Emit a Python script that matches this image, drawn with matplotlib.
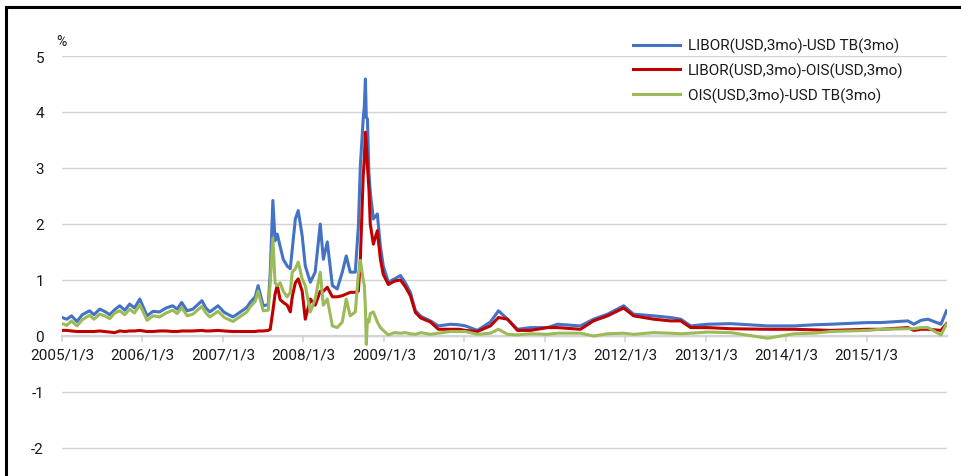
import matplotlib
matplotlib.use("Agg")
import matplotlib.pyplot as plt
from matplotlib.lines import Line2D
import pandas as pd

# Datas (aprox.)
datas = [
    "2005-01-03", "2005-01-25", "2005-02-15", "2005-03-12", "2005-04-05", "2005-05-08",
    "2005-05-28", "2005-06-23", "2005-07-15", "2005-08-08", "2005-08-30", "2005-09-22",
    "2005-10-15", "2005-11-06", "2005-11-28", "2005-12-22", "2006-01-24", "2006-02-20",
    "2006-03-22", "2006-04-20", "2006-05-20", "2006-06-10", "2006-06-30", "2006-07-25",
    "2006-08-20", "2006-09-30", "2006-10-18", "2006-11-05", "2006-12-12", "2007-01-10",
    "2007-02-18", "2007-03-20", "2007-04-22", "2007-05-07", "2007-05-30", "2007-06-12",
    "2007-07-05", "2007-07-28", "2007-08-06", "2007-08-18", "2007-08-28", "2007-09-07",
    "2007-09-20", "2007-10-04", "2007-10-22", "2007-11-05", "2007-11-14", "2007-11-28",
    "2007-12-11", "2007-12-29", "2008-01-12", "2008-02-04", "2008-02-26", "2008-03-20",
    "2008-04-03", "2008-04-21", "2008-05-14", "2008-06-05", "2008-06-28", "2008-07-16",
    "2008-08-03", "2008-08-26", "2008-09-09", "2008-09-18", "2008-10-01", "2008-10-06",
    "2008-10-11", "2008-10-15", "2008-10-20", "2008-10-27", "2008-11-02", "2008-11-16",
    "2008-12-04", "2008-12-18", "2008-12-31", "2009-01-23", "2009-02-20", "2009-03-19",
    "2009-04-10", "2009-05-03", "2009-05-26", "2009-06-20", "2009-08-02", "2009-09-07",
    "2009-11-01", "2009-12-10", "2010-01-08", "2010-03-03", "2010-05-01", "2010-06-07",
    "2010-07-18", "2010-09-01", "2010-10-30", "2011-01-15", "2011-03-02", "2011-06-14",
    "2011-08-12", "2011-10-15", "2011-12-27", "2012-02-10", "2012-05-11", "2012-07-27",
    "2012-09-11", "2012-10-26", "2013-01-11", "2013-04-26", "2013-10-11", "2014-02-06",
    "2014-05-08", "2014-07-24", "2015-01-08", "2015-03-08", "2015-07-09", "2015-08-05",
    "2015-09-06", "2015-10-08", "2015-12-06", "2015-12-31",
]

libor_tb = [
    0.33, 0.30, 0.36, 0.26, 0.38, 0.45,
    0.38, 0.48, 0.44, 0.38, 0.47, 0.54,
    0.46, 0.57, 0.50, 0.66, 0.36, 0.44,
    0.43, 0.50, 0.54, 0.48, 0.60, 0.45,
    0.48, 0.63, 0.50, 0.43, 0.54, 0.42,
    0.34, 0.42, 0.51, 0.60, 0.70, 0.90,
    0.54, 0.56, 1.14, 2.42, 1.70, 1.82,
    1.60, 1.37, 1.25, 1.20, 1.55, 2.09,
    2.24, 1.79, 1.25, 0.96, 1.14, 2.00,
    1.37, 1.68, 0.90, 0.84, 1.14, 1.43,
    1.14, 1.14, 1.96, 3.04, 3.88, 4.10,
    4.59, 3.90, 3.88, 2.90, 2.57, 2.09,
    2.18, 1.60, 1.25, 0.96, 1.02, 1.08,
    0.95, 0.78, 0.45, 0.35, 0.27, 0.18,
    0.21, 0.20, 0.18, 0.10, 0.25, 0.45,
    0.30, 0.12, 0.15, 0.15, 0.21, 0.18,
    0.30, 0.39, 0.54, 0.39, 0.36, 0.33,
    0.30, 0.18, 0.21, 0.22, 0.18, 0.18,
    0.20, 0.21, 0.24, 0.24, 0.27, 0.21,
    0.28, 0.30, 0.21, 0.45,
]

libor_ois = [
    0.10, 0.10, 0.09, 0.08, 0.08, 0.08,
    0.08, 0.09, 0.08, 0.07, 0.06, 0.09,
    0.08, 0.09, 0.09, 0.10, 0.08, 0.08,
    0.09, 0.09, 0.08, 0.08, 0.09, 0.09,
    0.09, 0.10, 0.09, 0.09, 0.10, 0.09,
    0.08, 0.08, 0.08, 0.08, 0.08, 0.09,
    0.09, 0.10, 0.12, 0.45, 0.75, 0.90,
    0.65, 0.60, 0.55, 0.43, 0.70, 0.95,
    1.02, 0.80, 0.30, 0.66, 0.55, 0.80,
    0.80, 0.87, 0.70, 0.70, 0.72, 0.75,
    0.78, 0.78, 0.80, 1.37, 2.86, 3.16,
    3.64, 3.40, 3.04, 2.62, 2.00, 1.64,
    1.88, 1.37, 1.10, 0.92, 0.98, 1.00,
    0.88, 0.72, 0.42, 0.32, 0.25, 0.12,
    0.12, 0.12, 0.10, 0.08, 0.18, 0.33,
    0.30, 0.10, 0.10, 0.15, 0.15, 0.12,
    0.27, 0.36, 0.50, 0.36, 0.30, 0.27,
    0.27, 0.15, 0.15, 0.13, 0.12, 0.12,
    0.11, 0.10, 0.12, 0.12, 0.15, 0.10,
    0.12, 0.12, 0.10, 0.22,
]

ois_tb = [
    0.22, 0.19, 0.27, 0.18, 0.29, 0.37,
    0.30, 0.39, 0.36, 0.31, 0.41, 0.45,
    0.38, 0.48, 0.41, 0.56, 0.28, 0.36,
    0.34, 0.41, 0.46, 0.40, 0.51, 0.36,
    0.39, 0.53, 0.41, 0.34, 0.44, 0.33,
    0.26, 0.34, 0.43, 0.52, 0.62, 0.80,
    0.45, 0.46, 0.95, 1.75, 0.95, 0.90,
    0.95, 0.80, 0.70, 0.78, 1.14, 1.20,
    1.32, 1.02, 0.90, 0.43, 0.66, 1.14,
    0.55, 0.66, 0.18, 0.15, 0.25, 0.66,
    0.36, 0.43, 1.10, 1.35, 1.00, 0.90,
    0.50, -0.15, 0.30, 0.25, 0.40, 0.43,
    0.25, 0.15, 0.10, 0.02, 0.06, 0.05,
    0.06, 0.04, 0.03, 0.06, 0.03, 0.05,
    0.08, 0.08, 0.08, 0.03, 0.05, 0.12,
    0.03, 0.02, 0.04, 0.03, 0.05, 0.05,
    0.00, 0.04, 0.05, 0.03, 0.06, 0.05,
    0.04, 0.05, 0.07, 0.06, -0.04, 0.04,
    0.05, 0.08, 0.10, 0.12, 0.13, 0.13,
    0.15, 0.15, 0.02, 0.21,
]

nomes_series = ["LIBOR(USD,3mo)-USD TB(3mo)", "LIBOR(USD,3mo)-OIS(USD,3mo)", "OIS(USD,3mo)-USD TB(3mo)"]
cores = ["#4472C4", "#C00000", "#9BBB59"]

ticks_x = ["2005-01-03", "2006-01-03", "2007-01-03", "2008-01-03", "2009-01-03", "2010-01-03",
           "2011-01-03", "2012-01-03", "2013-01-03", "2014-01-03", "2015-01-03"]
rotulos_x = ["2005/1/3", "2006/1/3", "2007/1/3", "2008/1/3", "2009/1/3", "2010/1/3",
             "2011/1/3", "2012/1/3", "2013/1/3", "2014/1/3", "2015/1/3"]
ticks_y = [-2, -1, 0, 1, 2, 3, 4, 5]
rotulos_y = ["-2", "-1", "0", "1", "2", "3", "4", "5"]


def plotar(caminho_png):
    plt.rcParams["font.family"] = ["Roboto", "DejaVu Sans"]
    W, H = 961, 477
    fig = plt.figure(figsize=(W / 100, H / 100), dpi=100)
    ax = fig.add_axes([62 / W, 0.0, (946.7 - 62) / W, 1 - 57 / H])

    x = pd.to_datetime(datas)
    for valores, nome, cor in zip([libor_tb, libor_ois, ois_tb], nomes_series, cores):
        ax.plot(x, valores, color=cor, linewidth=2.2, label=nome, zorder=3)

    ax.set_xlim(pd.Timestamp("2005-01-03"), pd.Timestamp("2016-01-01"))
    ax.set_ylim(-2.5, 5)

    # linhas de grade horizontais
    for v in ticks_y:
        ax.axhline(v, color="#d4d4d4", linewidth=1.0, zorder=1)

    ax.set_yticks(ticks_y)
    ax.set_yticklabels(rotulos_y)
    ax.set_xticks(pd.to_datetime(ticks_x))
    ax.set_xticklabels(rotulos_x)

    for lado in ["top", "right", "left"]:
        ax.spines[lado].set_visible(False)
    ax.spines["bottom"].set_position(("data", 0))
    ax.spines["bottom"].set_color("#d4d4d4")
    ax.spines["bottom"].set_linewidth(1.6)
    ax.spines["bottom"].set_zorder(2)

    ax.tick_params(axis="x", direction="out", length=4, width=1.2, color="#d4d4d4",
                   pad=4, labelsize=11, labelcolor="#1a1a1a")
    ax.tick_params(axis="y", length=0, pad=13, labelsize=11, labelcolor="#1a1a1a")

    ax.legend(loc="upper left", bbox_to_anchor=(633 / W, 1 - 39 / H), bbox_transform=fig.transFigure,
              frameon=False, fontsize=11, handlelength=3.1, handletextpad=0.5,
              labelspacing=0.62, borderpad=0, borderaxespad=0, labelcolor="#1a1a1a")

    fig.text(61 / W, 1 - 42 / H, "%", ha="center", va="center", fontsize=10, color="#1a1a1a")

    # moldura preta (esquerda e topo)
    fig.add_artist(Line2D([6 / W, 6 / W], [0, 1 - 8 / H], transform=fig.transFigure, color="black", linewidth=2.2))
    fig.add_artist(Line2D([6 / W, 1], [1 - 8 / H, 1 - 8 / H], transform=fig.transFigure, color="black", linewidth=2.2))

    fig.savefig(caminho_png, dpi=100)
    plt.close(fig)


def main():
    plotar("out.png")


if __name__ == "__main__":
    main()
